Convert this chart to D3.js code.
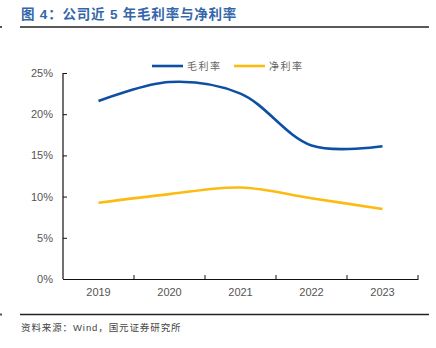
<!DOCTYPE html>
<html>
<head>
<meta charset="utf-8">
<script src="https://cdn.jsdelivr.net/npm/d3@7"></script>
<style>
  body { margin: 0; background: #fff; }
  text { font-family: "Liberation Sans", Arial, "Noto Sans CJK SC", sans-serif; }
</style>
</head>
<body>
<div id="chart"></div>
<script>
// years and margin series (%)
var years = ["2019", "2020", "2021", "2022", "2023"];
var grossMargin = [21.6, 23.9, 22.5, 16.2, 16.1];
var netMargin = [9.25, 10.3, 11.1, 9.8, 8.5];
var yTicks = [0, 5, 10, 15, 20, 25];
var seriesNames = ["毛利率", "净利率"];
var seriesColors = ["#0d4fa3", "#fbbb10"];

var W = 436, H = 348;
var svg = d3.select("#chart").append("svg")
  .attr("width", W).attr("height", H);

// header and footer
svg.append("text")
  .attr("x", 21).attr("y", 19)
  .attr("fill", "#3566aa")
  .attr("font-size", 13.5)
  .attr("font-weight", "bold")
  .attr("letter-spacing", 0.8)
  .attr("font-family", "'Noto Sans CJK SC', sans-serif")
  .text("图 4：公司近 5 年毛利率与净利率");

[27, 314.5].forEach(function(ry) {
  svg.append("line")
    .attr("x1", 20).attr("x2", 429).attr("y1", ry).attr("y2", ry)
    .attr("stroke", "#222").attr("stroke-width", 1.3);
  svg.append("rect")
    .attr("x", 0).attr("y", ry - 1).attr("width", 2).attr("height", 2)
    .attr("fill", "#555");
});

svg.append("text")
  .attr("x", 21).attr("y", 331)
  .attr("fill", "#444")
  .attr("font-size", 9.5)
  .attr("letter-spacing", 0.9)
  .attr("font-family", "'Noto Sans CJK SC', sans-serif")
  .text("资料来源：Wind，国元证券研究所");

// plot area
var x = d3.scaleBand().domain(years).range([63, 418]);
var y = d3.scaleLinear().domain([0, 25]).range([279, 73]);

var xAxis = svg.append("g")
  .attr("transform", "translate(0,279)")
  .call(d3.axisBottom(x).tickSize(0).tickPadding(9));
xAxis.select(".domain").attr("stroke", "#111").attr("stroke-width", 1.2);
xAxis.selectAll("text").attr("font-size", 11).attr("fill", "#555")
  .attr("font-family", "'Liberation Sans', Arial, sans-serif");

// tick marks on category boundaries
xAxis.selectAll(".bound")
  .data(years)
  .enter().append("line")
  .attr("class", "bound")
  .attr("x1", function(d, i) { return 63 + x.step() * (i + 1); })
  .attr("x2", function(d, i) { return 63 + x.step() * (i + 1); })
  .attr("y1", 0).attr("y2", -4)
  .attr("stroke", "#111").attr("stroke-width", 1);

var yAxis = svg.append("g")
  .attr("transform", "translate(63,0)")
  .call(d3.axisLeft(y).tickValues(yTicks).tickSize(4).tickPadding(6)
    .tickFormat(function(d) { return d + "%"; }));
yAxis.select(".domain").attr("stroke", "#111").attr("stroke-width", 1.2)
  .attr("d", "M0," + y(25) + "V" + y(0));
yAxis.selectAll(".tick line").attr("stroke", "#111").attr("x2", 4).attr("x1", 0);
yAxis.selectAll("text").attr("font-size", 11).attr("fill", "#555")
  .attr("font-family", "'Liberation Sans', Arial, sans-serif");

// smoothed lines
var line = d3.line()
  .x(function(d, i) { return x(years[i]) + x.bandwidth() / 2; })
  .y(function(d) { return y(d); })
  .curve(d3.curveCatmullRom.alpha(0.5));

[grossMargin, netMargin].forEach(function(s, k) {
  svg.append("path")
    .datum(s)
    .attr("d", line)
    .attr("fill", "none")
    .attr("stroke", seriesColors[k])
    .attr("stroke-width", 2.6)
    .attr("stroke-linecap", "butt");
});

// legend
var legend = svg.append("g").attr("transform", "translate(152,66)");
seriesNames.forEach(function(n, k) {
  var g = legend.append("g").attr("transform", "translate(" + (k * 82) + ",0)");
  g.append("line").attr("x1", 0).attr("x2", 31).attr("y1", 0).attr("y2", 0)
    .attr("stroke", seriesColors[k]).attr("stroke-width", 2.6);
  g.append("text").attr("x", 35).attr("y", 4)
    .attr("font-size", 10).attr("fill", "#666")
    .attr("letter-spacing", 1.5)
    .attr("font-family", "'Noto Sans CJK SC', sans-serif")
    .text(n);
});
</script>
</body>
</html>
